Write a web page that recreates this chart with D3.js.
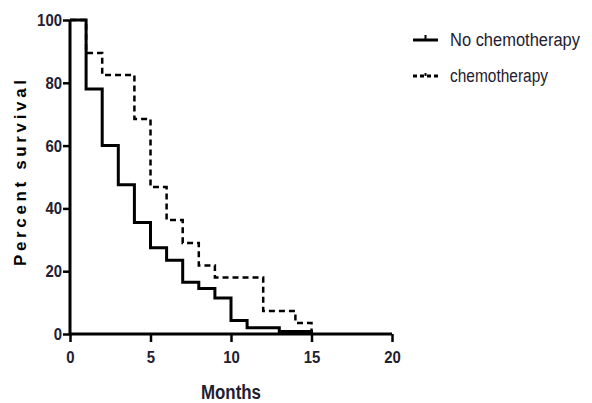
<!DOCTYPE html>
<html>
<head>
<meta charset="utf-8">
<script src="https://cdn.jsdelivr.net/npm/d3@7"></script>
<style>
  html, body { margin: 0; padding: 0; background: #fff; }
  svg { display: block; }
</style>
</head>
<body>
<svg id="chart" width="592" height="403"></svg>
<script>
// ---- data ----
const monthsNoChemo = [0, 1, 2, 3, 4, 5, 6, 7, 8, 9, 10, 11, 13, 15];
const survivalNoChemo = [100, 78, 60, 47.5, 35.5, 27.5, 23.5, 16.5, 14.5, 11.5, 4.3, 2, 0.8, 0];
const monthsChemo = [0, 1, 2, 4, 5, 6, 7, 8, 9, 12, 14, 15];
const survivalChemo = [100, 89.5, 82.5, 68.5, 46.8, 36.3, 29, 21.8, 18, 7.3, 3.5, 0];
const xTicks = [0, 5, 10, 15, 20];
const yTicks = [0, 20, 40, 60, 80, 100];
const seriesNames = ["No chemotherapy", "chemotherapy"];

const svg = d3.select("#chart");
const sans = "'Liberation Sans', Arial, sans-serif";
const textColor = "#1f2030";

const x = d3.scaleLinear().domain([0, 20]).range([70, 392]);
const y = d3.scaleLinear().domain([0, 100]).range([334, 20]);

// axes
const xAxis = svg.append("g").attr("transform", `translate(0,${y(0)})`)
  .call(d3.axisBottom(x).tickValues(xTicks).tickSize(8).tickPadding(9).tickFormat(d3.format("d")));
const yAxis = svg.append("g").attr("transform", `translate(${x(0)},0)`)
  .call(d3.axisLeft(y).tickValues(yTicks).tickSize(7).tickPadding(1).tickFormat(d3.format("d")));
[xAxis, yAxis].forEach(g => {
  g.select(".domain").attr("stroke", "#000").attr("stroke-width", 3);
  g.selectAll(".tick line").attr("stroke", "#000").attr("stroke-width", 2.5);
  g.selectAll(".tick text").attr("fill", textColor)
    .style("font-family", sans).style("font-weight", "bold").style("font-size", "17px")
    .attr("textLength", d => String(d).length * 8.3).attr("lengthAdjust", "spacingAndGlyphs");
});
xAxis.select(".domain").attr("d", `M${x(0)},0H${x(20)}`);
yAxis.select(".domain").attr("d", `M0,${y(100)}V${y(0)}`);

// step lines
const line = d3.line().x(d => x(d[0])).y(d => y(d[1])).curve(d3.curveStepAfter);
const noData = monthsNoChemo.map((m, i) => [m, survivalNoChemo[i]]);
const chData = monthsChemo.map((m, i) => [m, survivalChemo[i]]);

svg.append("path").datum(chData).attr("d", line)
  .attr("fill", "none").attr("stroke", "#000").attr("stroke-width", 2.5)
  .attr("stroke-dasharray", "6,4");
svg.append("path").datum(noData).attr("d", line)
  .attr("fill", "none").attr("stroke", "#000").attr("stroke-width", 3);

// legend
const leg = svg.append("g");
leg.append("line").attr("x1", 413).attr("x2", 438).attr("y1", 40).attr("y2", 40)
  .attr("stroke", "#000").attr("stroke-width", 3);
leg.append("line").attr("x1", 425.5).attr("x2", 425.5).attr("y1", 35).attr("y2", 40)
  .attr("stroke", "#000").attr("stroke-width", 2);
leg.append("line").attr("x1", 413).attr("x2", 438).attr("y1", 76).attr("y2", 76)
  .attr("stroke", "#000").attr("stroke-width", 3).attr("stroke-dasharray", "4,3");
leg.append("line").attr("x1", 425.5).attr("x2", 425.5).attr("y1", 73).attr("y2", 76)
  .attr("stroke", "#000").attr("stroke-width", 2);
leg.selectAll("text.lg").data(seriesNames).join("text").attr("class", "lg")
  .attr("x", 450).attr("y", (d, i) => i === 0 ? 46 : 82)
  .attr("textLength", (d, i) => i === 0 ? 130 : 98).attr("lengthAdjust", "spacingAndGlyphs")
  .attr("fill", textColor).style("font-family", sans).style("font-size", "18px")
  .text(d => d);

// axis titles
svg.append("text").attr("transform", "translate(26,173) rotate(-90)")
  .attr("text-anchor", "middle").attr("textLength", 186).attr("lengthAdjust", "spacing")
  .attr("fill", "#000").style("font-family", sans)
  .style("font-weight", "bold").style("font-size", "17px").text("Percent survival");
svg.append("text").attr("x", x(10)).attr("y", 399).attr("text-anchor", "middle")
  .attr("textLength", 60).attr("lengthAdjust", "spacingAndGlyphs")
  .attr("fill", textColor).style("font-family", sans).style("font-weight", "bold")
  .style("font-size", "20px").text("Months");
</script>
</body>
</html>
